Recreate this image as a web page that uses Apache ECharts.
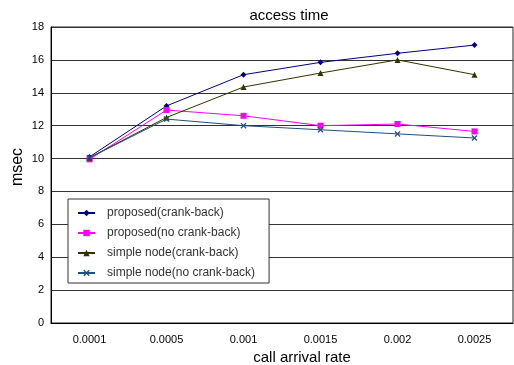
<!DOCTYPE html>
<html>
<head>
<meta charset="utf-8">
<script src="https://cdn.jsdelivr.net/npm/echarts@6/dist/echarts.min.js"></script>
<style>html,body{margin:0;padding:0;background:#fff}#c{width:514px;height:365px}</style>
</head>
<body>
<div id="c"></div>
<script>
var categories = ['0.0001', '0.0005', '0.001', '0.0015', '0.002', '0.0025'];
var proposedCrank = [10.1, 13.2, 15.1, 15.85, 16.4, 16.9];
var proposedNoCrank = [9.95, 12.95, 12.6, 12.0, 12.1, 11.65];
var simpleCrank = [10.05, 12.5, 14.35, 15.2, 16.0, 15.1];
var simpleNoCrank = [10.05, 12.4, 12.0, 11.75, 11.5, 11.25];
var yTicks = [0, 2, 4, 6, 8, 10, 12, 14, 16, 18];

var FONT = '"Liberation Sans", Arial, sans-serif';
var XMARK = 'path://M0,1.5L1.5,0L5,3.5L8.5,0L10,1.5L6.5,5L10,8.5L8.5,10L5,6.5L1.5,10L0,8.5L3.5,5Z';

function mk(name, data, color, symbol, size) {
  return {
    name: name, type: 'line', data: data,
    symbol: symbol, symbolSize: size,
    lineStyle: {color: color, width: 1},
    itemStyle: {color: color},
    animation: false
  };
}

var chart = echarts.init(document.getElementById('c'), null, {renderer: 'canvas'});
chart.setOption({
  backgroundColor: '#fff',
  animation: false,
  title: {
    text: 'access time', left: 284, top: 3, textAlign: 'center',
    textStyle: {fontFamily: FONT, fontSize: 15, fontWeight: 'normal', color: '#000'}
  },
  grid: {left: 51, right: 1, top: 27, bottom: 42, show: true, borderColor: '#222', borderWidth: 1,
    backgroundColor: '#fff', containLabel: false, outerBoundsMode: 'none'},
  legend: {
    orient: 'vertical', left: 68, top: 199,
    padding: [8, 14, 4, 9],
    itemWidth: 17, itemHeight: 8, itemGap: 8,
    borderColor: '#333', borderWidth: 1, backgroundColor: '#fff',
    textStyle: {fontFamily: FONT, fontSize: 12, color: '#333', padding: [0, 0, 0, 7]},
    data: ['proposed(crank-back)', 'proposed(no crank-back)', 'simple node(crank-back)', 'simple node(no crank-back)']
  },
  xAxis: {
    type: 'category', data: categories, boundaryGap: true,
    name: 'call arrival rate', nameLocation: 'middle', nameGap: 26,
    nameTextStyle: {fontFamily: FONT, fontSize: 15, color: '#000', padding: [0, 0, 0, 40]},
    axisLine: {lineStyle: {color: '#000', width: 1}},
    axisTick: {inside: true, length: 4, lineStyle: {color: '#000'}},
    axisLabel: {fontFamily: FONT, fontSize: 11, color: '#000', margin: 11},
    splitLine: {show: false}
  },
  yAxis: {
    type: 'value', min: 0, max: 18, interval: 2,
    name: 'msec', nameLocation: 'middle', nameGap: 25, nameRotate: 90, nameMoveOverlap: false,
    nameTextStyle: {fontFamily: FONT, fontSize: 16, color: '#000', padding: [0, 0, 0, 16]},
    axisLine: {show: true, lineStyle: {color: '#000', width: 1}},
    axisTick: {show: false},
    axisLabel: {fontFamily: FONT, fontSize: 11, color: '#000', margin: 7,
      formatter: function (v) { return yTicks.indexOf(v) >= 0 ? String(v) : ''; }},
    splitLine: {show: true, lineStyle: {color: '#333', width: 1}}
  },
  series: [
    mk('proposed(crank-back)', proposedCrank, '#000080', 'diamond', 6),
    mk('proposed(no crank-back)', proposedNoCrank, '#ff00ff', 'rect', 6),
    mk('simple node(crank-back)', simpleCrank, '#333300', 'triangle', 6),
    mk('simple node(no crank-back)', simpleNoCrank, '#1f4f7f', XMARK, 6)
  ]
});
</script>
</body>
</html>
